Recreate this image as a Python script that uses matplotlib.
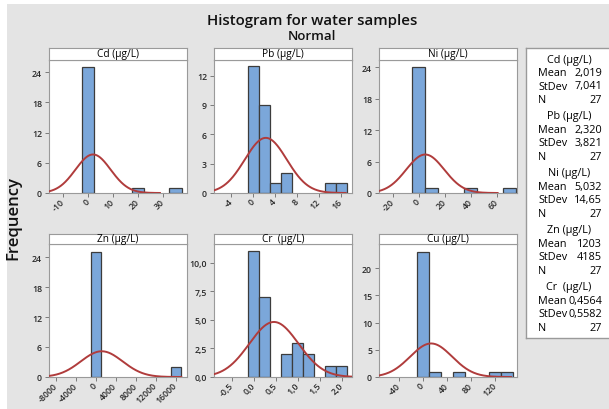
import numpy as np
import matplotlib
matplotlib.use('Agg')
import matplotlib.pyplot as plt
from matplotlib.patches import Rectangle

# ---------------- data ----------------
cd_centers = [0, 20, 35]
cd_counts = [25, 1, 1]
cd_width = 5

pb_centers = [0, 2, 4, 6, 14, 16]
pb_counts = [13, 9, 1, 2, 1, 1]
pb_width = 2

ni_centers = [0, 10, 40, 70]
ni_counts = [24, 1, 1, 1]
ni_width = 10

zn_centers = [0, 16000]
zn_counts = [25, 2]
zn_width = 2000

cr_centers = [0.0, 0.25, 0.75, 1.0, 1.25, 1.75, 2.0]
cr_counts = [11, 7, 2, 3, 2, 1, 1]
cr_width = 0.25

cu_centers = [0, 20, 60, 120, 140]
cu_counts = [23, 1, 1, 1, 1]
cu_width = 20

names = ["Cd (μg/L)", "Pb (μg/L)", "Ni (μg/L)", "Zn (μg/L)", "Cr  (μg/L)", "Cu (μg/L)"]
means = [2.019, 2.320, 5.032, 1203, 0.4564, 14.0]
stdevs = [7.041, 3.821, 14.65, 4185, 0.5582, 35.0]
n_obs = [27, 27, 27, 27, 27, 27]

legend_names = ["Cd (μg/L)", "Pb (μg/L)", "Ni (μg/L)", "Zn (μg/L)", "Cr  (μg/L)"]
legend_mean = ["2,019", "2,320", "5,032", "1203", "0,4564"]
legend_sd = ["7,041", "3,821", "14,65", "4185", "0,5582"]
legend_n = ["27", "27", "27", "27", "27"]

cd_xticks = [-10, 0, 10, 20, 30]
pb_xticks = [-4, 0, 4, 8, 12, 16]
ni_xticks = [-20, 0, 20, 40, 60]
zn_xticks = [-8000, -4000, 0, 4000, 8000, 12000, 16000]
cr_xticks = [-0.5, 0.0, 0.5, 1.0, 1.5, 2.0]
cr_xticklabels = ["-0,5", "0,0", "0,5", "1,0", "1,5", "2,0"]
cu_xticks = [-40, 0, 40, 80, 120]

cd_yticks = [0, 6, 12, 18, 24]
pb_yticks = [0, 3, 6, 9, 12]
ni_yticks = [0, 6, 12, 18, 24]
zn_yticks = [0, 6, 12, 18, 24]
cr_yticks = [0, 2.5, 5, 7.5, 10]
cr_yticklabels = ["0,0", "2,5", "5,0", "7,5", "10,0"]
cu_yticks = [0, 5, 10, 15, 20]

# ---------------- layout ----------------
W, H = 609, 410
plt.rcParams['font.family'] = ['Open Sans', 'DejaVu Sans']

fig = plt.figure(figsize=(W / 100, H / 100), dpi=100)
fig.patch.set_facecolor('white')
fig.patches.append(Rectangle((7 / W, 0), 1, 1 - 5 / H, transform=fig.transFigure,
                             facecolor='#e4e4e4', edgecolor='none', zorder=-10))


def rect(l, t, r, b):
    return [l / W, 1 - b / H, (r - l) / W, (b - t) / H]


BAR = '#7ba7da'
EDGE = '#3c3c3c'
CURVE = '#b03c3c'
TXT = '#2a2a2a'

panels = [
    dict(c=cd_centers, n=cd_counts, w=cd_width, xt=cd_xticks, xtl=None, yt=cd_yticks, ytl=None,
         xlim=(-15.6, 39.6), ylim=(0, 26.4), box=(49, 61, 187, 194)),
    dict(c=pb_centers, n=pb_counts, w=pb_width, xt=pb_xticks, xtl=None, yt=pb_yticks, ytl=None,
         xlim=(-7.1, 18.0), ylim=(0, 13.6), box=(214, 61, 352, 194)),
    dict(c=ni_centers, n=ni_counts, w=ni_width, xt=ni_xticks, xtl=None, yt=ni_yticks, ytl=None,
         xlim=(-30.5, 75.6), ylim=(0, 25.4), box=(379, 61, 517, 194)),
    dict(c=zn_centers, n=zn_counts, w=zn_width, xt=zn_xticks, xtl=None, yt=zn_yticks, ytl=None,
         xlim=(-9340, 18260), ylim=(0, 26.7), box=(49, 244.5, 187, 378)),
    dict(c=cr_centers, n=cr_counts, w=cr_width, xt=cr_xticks, xtl=cr_xticklabels, yt=cr_yticks,
         ytl=cr_yticklabels, xlim=(-0.905, 2.23), ylim=(0, 11.7), box=(214, 244.5, 352, 378)),
    dict(c=cu_centers, n=cu_counts, w=cu_width, xt=cu_xticks, xtl=None, yt=cu_yticks, ytl=None,
         xlim=(-72.8, 157), ylim=(0, 24.5), box=(379, 244.5, 517, 378)),
]

for i, p in enumerate(panels):
    l, t, r, b = p['box']
    ax = fig.add_axes(rect(l, t, r, b))
    ax.bar(p['c'], p['n'], width=p['w'], color=BAR, edgecolor=EDGE, linewidth=0.9, zorder=2)
    mu, sd = means[i], stdevs[i]
    x0 = max(p['xlim'][0], mu - 3.8 * sd)
    xs = np.linspace(x0, mu + 3.8 * sd, 300)
    ys = n_obs[i] * p['w'] / (sd * np.sqrt(2 * np.pi)) * np.exp(-0.5 * ((xs - mu) / sd) ** 2)
    ax.plot(xs, ys, color=CURVE, lw=1.4, zorder=3)
    ax.set_xlim(*p['xlim'])
    ax.set_ylim(*p['ylim'])
    ax.set_xticks(p['xt'])
    if p['xtl'] is not None:
        ax.set_xticklabels(p['xtl'])
    else:
        ax.set_xticklabels([str(v) for v in p['xt']])
    ax.set_yticks(p['yt'])
    if p['ytl'] is not None:
        ax.set_yticklabels(p['ytl'])
    else:
        ax.set_yticklabels([str(v) for v in p['yt']])
    for s in ax.spines.values():
        s.set_color('#9a9a9a')
        s.set_linewidth(0.8)
    ax.tick_params(axis='both', length=3, width=0.7, color='#7a7a7a', labelsize=6.3, labelcolor=TXT, pad=2)
    for lab in ax.get_xticklabels():
        lab.set_rotation(45)
        lab.set_ha('right')
        lab.set_va('center')
        lab.set_rotation_mode('anchor')
        lab.set_fontweight('semibold')
    for lab in ax.get_yticklabels():
        lab.set_fontweight('semibold')
    # header strip
    ht = 49 if t < 100 else 234.5
    hax = fig.add_axes(rect(l, ht, r, t))
    hax.set_xticks([]); hax.set_yticks([])
    hax.set_facecolor('white')
    for s in hax.spines.values():
        s.set_color('#9a9a9a')
        s.set_linewidth(0.8)
    hax.text(0.5, 0.5, names[i], ha='center', va='center', fontsize=7.3, color='black',
             transform=hax.transAxes)

# titles
fig.text(312 / W, 1 - 21 / H, "Histogram for water samples", ha='center', va='center',
         fontsize=10.8, fontweight='semibold', color='#111111')
fig.text(312 / W, 1 - 37 / H, "Normal", ha='center', va='center',
         fontsize=9.5, fontweight='semibold', color='#111111')
fig.text(13 / W, 1 - 218 / H, "Frequency", ha='center', va='center', rotation=90,
         fontsize=12, fontweight='semibold', color='#111111')

# legend box
lax = fig.add_axes(rect(526, 49, 612, 339))
lax.set_xlim(526, 612)
lax.set_ylim(339, 49)
lax.set_xticks([]); lax.set_yticks([])
lax.set_facecolor('white')
for s in lax.spines.values():
    s.set_color('#9a9a9a')
    s.set_linewidth(1.0)

for g in range(5):
    y0 = 60 + 57 * g
    lax.text(569, y0, legend_names[g], ha='center', va='center', fontsize=7.8, color='black')
    rows = [("Mean", legend_mean[g]), ("StDev", legend_sd[g]), ("N", legend_n[g])]
    for k, (lab, val) in enumerate(rows):
        yy = y0 + 13.5 * (k + 1)
        lax.text(538, yy, lab, ha='left', va='center', fontsize=7.8, color='black')
        lax.text(602, yy, val, ha='right', va='center', fontsize=7.8, color='black')

fig.savefig('out.png', dpi=100)
